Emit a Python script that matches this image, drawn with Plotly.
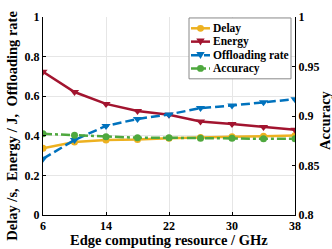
import plotly.graph_objects as go

x = [6, 10, 14, 18, 22, 26, 30, 34, 38]
delay = [0.337, 0.369, 0.379, 0.381, 0.387, 0.392, 0.395, 0.398, 0.401]
energy = [0.723, 0.621, 0.561, 0.525, 0.506, 0.472, 0.459, 0.444, 0.431]
offload = [0.284, 0.379, 0.450, 0.485, 0.508, 0.540, 0.553, 0.569, 0.585]
accuracy = [0.882, 0.8805, 0.879, 0.878, 0.878, 0.8775, 0.8775, 0.877, 0.877]

series_names = ["Delay", "Energy", "Offloading rate", "Accuracy"]
colors = ["#EDB120", "#A2142F", "#0072BD", "#4EA83E"]
dashes = ["solid", "solid", "9px,4px", "9px,3px,3px,3px"]
symbols = ["circle", "triangle-down", "triangle-down", "circle"]

xticks = [6, 14, 22, 30, 38]
yticks = [0, 0.2, 0.4, 0.6, 0.8, 1]
ylabels = ["0", "0.2", "0.4", "0.6", "0.8", "1"]
y2ticks = [0.8, 0.85, 0.9, 0.95, 1]
y2labels = ["0.8", "0.85", "0.9", "0.95", "1"]

W, H = 332, 249
ML, MR, MT, MB = 43, 37, 10, 34
PW, PH = W - ML - MR, H - MT - MB

def px(xpix):
    return (xpix - ML) / PW

def py(ypix):
    return (H - MB - ypix) / PH

font = "'Liberation Serif', 'Times New Roman', serif"
fig = go.Figure()
values = [delay, energy, offload, accuracy]
for i, name in enumerate(series_names):
    fig.add_trace(go.Scatter(
        x=x, y=values[i], name=name, mode="lines+markers",
        yaxis="y2" if name == "Accuracy" else "y",
        line=dict(color=colors[i], width=2.5, dash=dashes[i]),
        marker=dict(symbol=symbols[i], size=7 if symbols[i] == "circle" else 8, color=colors[i]),
        showlegend=False))

# custom compact legend (MATLAB style)
shapes = []
annotations = []
box_l, box_r, box_t, box_b = 189, 291, 11, 74
shapes.append(dict(type="rect", xref="paper", yref="paper",
                   x0=px(box_l), x1=px(box_r), y0=py(box_b), y1=py(box_t),
                   line=dict(color="#888888", width=1), fillcolor="white", layer="above"))
row_y = [21.7, 35.5, 49.5, 63.3]
for i, name in enumerate(series_names):
    yc = row_y[i]
    shapes.append(dict(type="line", xref="paper", yref="paper",
                       x0=px(191), x1=px(210), y0=py(yc), y1=py(yc),
                       line=dict(color=colors[i], width=2.5, dash=dashes[i]), layer="above"))
    cx = 200.5
    if symbols[i] == "circle":
        r = 3.5
        shapes.append(dict(type="circle", xref="paper", yref="paper",
                           x0=px(cx - r), x1=px(cx + r), y0=py(yc + r), y1=py(yc - r),
                           line=dict(color=colors[i], width=0), fillcolor=colors[i], layer="above"))
    else:
        s = 4.2
        path = "M {:.4f},{:.4f} L {:.4f},{:.4f} L {:.4f},{:.4f} Z".format(
            px(cx - s), py(yc - s * 0.75), px(cx + s), py(yc - s * 0.75), px(cx), py(yc + s * 0.95))
        shapes.append(dict(type="path", xref="paper", yref="paper", path=path,
                           line=dict(color=colors[i], width=0), fillcolor=colors[i], layer="above"))
    annotations.append(dict(text="<b>%s</b>" % name, xref="paper", yref="paper",
                            x=px(211), y=py(yc), xanchor="left", yanchor="middle",
                            showarrow=False, font=dict(family=font, size=11.5, color="black")))

title_font = dict(family=font, size=14.5, color="black")
annotations += [
    dict(text="<b>Edge computing resource / GHz</b>", xref="paper", yref="paper",
         x=0.5, y=-0.124, xanchor="center", yanchor="middle", showarrow=False, font=title_font),
    dict(text="<b>Delay /s,  Energy / J,  Offloading rate</b>", xref="paper", yref="paper",
         x=-0.123, y=0.451, xanchor="center", yanchor="middle", textangle=-90,
         showarrow=False, font=title_font),
    dict(text="<b>Accuracy</b>", xref="paper", yref="paper",
         x=1.119, y=0.48, xanchor="center", yanchor="middle", textangle=-90,
         showarrow=False, font=title_font),
]

fig.update_layout(
    width=W, height=H,
    margin=dict(l=ML, r=MR, t=MT, b=MB),
    plot_bgcolor="white", paper_bgcolor="white",
    font=dict(family=font, size=12, color="black"),
    showlegend=False,
    xaxis=dict(range=[6, 38], tickvals=xticks, ticktext=["<b>%d</b>" % v for v in xticks],
               showgrid=True, gridcolor="#e6e6e6", gridwidth=1,
               showline=True, linecolor="black", linewidth=1,
               ticks="inside", ticklen=3, tickcolor="black",
               zeroline=False),
    yaxis=dict(range=[0, 1], tickvals=yticks, ticktext=["<b>%s</b>" % s for s in ylabels],
               showgrid=True, gridcolor="#e6e6e6", gridwidth=1,
               showline=True, linecolor="black", linewidth=1,
               ticks="inside", ticklen=3, tickcolor="black",
               zeroline=False),
    yaxis2=dict(range=[0.8, 1], overlaying="y", side="right",
                tickvals=y2ticks, ticktext=["<b>%s</b>" % s for s in y2labels],
                showgrid=False, showline=True, linecolor="black", linewidth=1,
                ticks="inside", ticklen=3, tickcolor="black", zeroline=False),
    shapes=shapes,
    annotations=annotations,
)
fig.write_html("out.html", config={"displayModeBar": False},
               post_script="document.body.style.margin='0';document.body.style.overflow='hidden';")
